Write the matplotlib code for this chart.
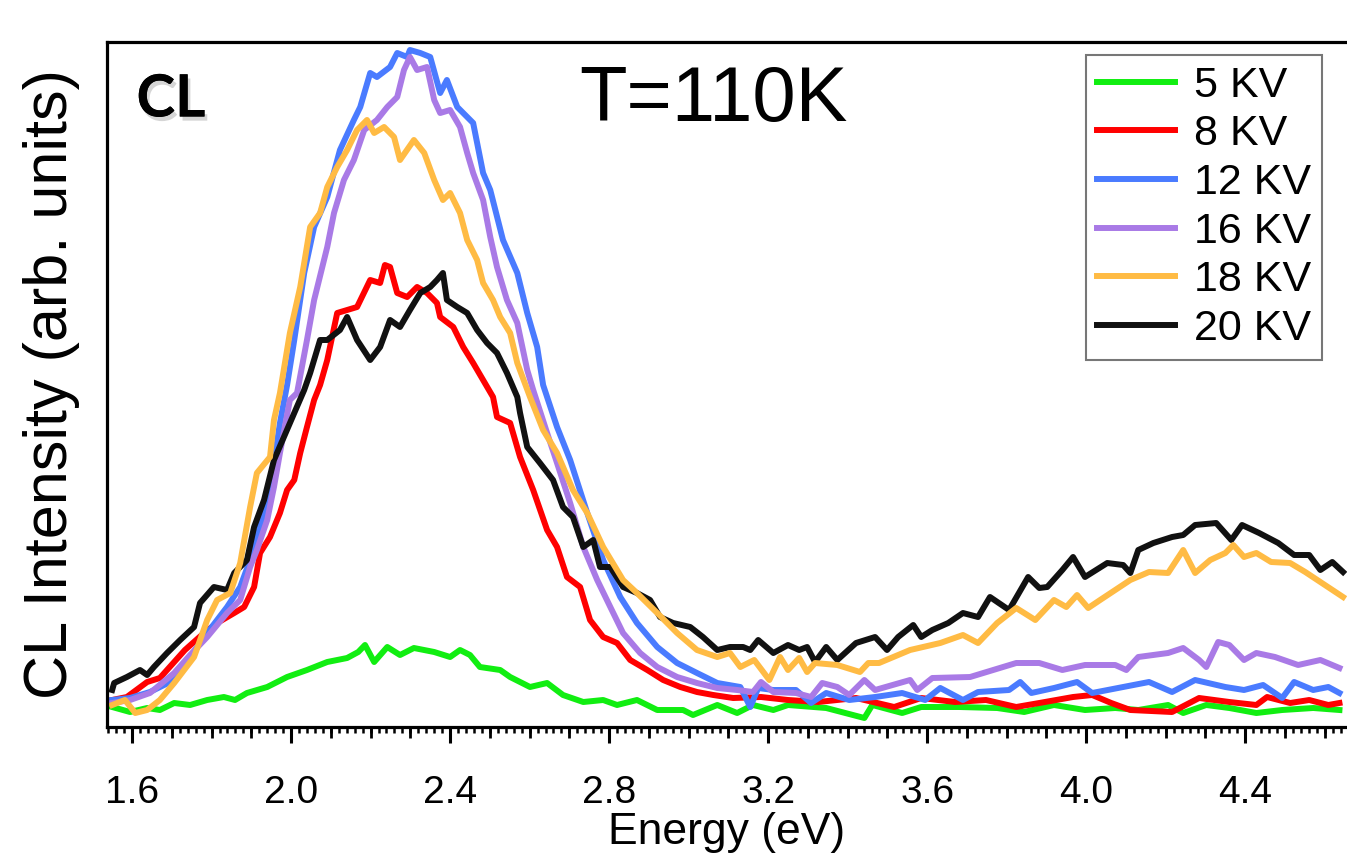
import numpy as np
import matplotlib
matplotlib.use("Agg")
import matplotlib.pyplot as plt
from matplotlib.ticker import MultipleLocator
import matplotlib.patheffects as pe

plt.rcParams['font.family'] = ['Liberation Sans', 'DejaVu Sans']

# CL spectra at T=110K, energy in eV, intensity in arb. units
e5 = [1.550, 1.595, 1.638, 1.670, 1.706, 1.746, 1.789, 1.831, 1.859, 1.889, 1.940, 1.990, 2.040,
      2.091, 2.141, 2.169, 2.186, 2.209, 2.242, 2.274, 2.309, 2.360, 2.400, 2.425, 2.450, 2.475,
      2.526, 2.551, 2.601, 2.644, 2.684, 2.735, 2.785, 2.820, 2.870, 2.921, 2.986, 3.011, 3.072,
      3.122, 3.162, 3.213, 3.250, 3.346, 3.442, 3.462, 3.537, 3.585, 3.680, 3.776, 3.844, 3.919,
      3.997, 4.073, 4.131, 4.206, 4.244, 4.302, 4.360, 4.428, 4.493, 4.571, 4.637]
i5 = [20, 15, 19, 17, 24, 22, 27, 30, 27, 34, 40, 50, 57,
      65, 69, 75, 82, 65, 80, 72, 79, 75, 70, 77, 72, 60,
      57, 50, 40, 44, 32, 25, 27, 22, 27, 17, 17, 12, 22,
      14, 22, 17, 22, 19, 9, 22, 14, 20, 20, 19, 15, 22,
      17, 19, 17, 22, 14, 22, 19, 14, 17, 19, 17]

e8 = [1.550, 1.587, 1.638, 1.670, 1.688, 1.733, 1.781, 1.814, 1.857, 1.882, 1.907, 1.922, 1.947,
      1.972, 1.990, 2.008, 2.023, 2.040, 2.058, 2.073, 2.091, 2.116, 2.141, 2.166, 2.199, 2.224,
      2.236, 2.249, 2.267, 2.292, 2.317, 2.342, 2.367, 2.375, 2.408, 2.433, 2.458, 2.483, 2.508,
      2.518, 2.551, 2.576, 2.609, 2.644, 2.669, 2.694, 2.727, 2.752, 2.785, 2.820, 2.853, 2.896,
      2.936, 2.979, 3.021, 3.062, 3.112, 3.182, 3.250, 3.326, 3.421, 3.517, 3.585, 3.670, 3.748,
      3.824, 3.882, 3.967, 4.015, 4.063, 4.111, 4.216, 4.284, 4.360, 4.428, 4.455, 4.513, 4.561,
      4.609, 4.637]
i8 = [27, 30, 45, 49, 57, 77, 94, 104, 114, 120, 140, 174, 190,
      214, 237, 247, 274, 300, 327, 342, 367, 414, 417, 420, 447, 444,
      462, 460, 434, 430, 440, 434, 424, 410, 400, 380, 364, 347, 330,
      310, 304, 270, 237, 197, 180, 150, 140, 107, 90, 84, 67, 57,
      47, 40, 35, 32, 29, 30, 27, 25, 29, 20, 29, 25, 27,
      20, 24, 30, 32, 24, 17, 15, 29, 25, 22, 30, 24, 27,
      22, 24]

e12 = [1.550, 1.595, 1.645, 1.706, 1.746, 1.789, 1.839, 1.872, 1.897, 1.932, 1.957, 1.972, 1.990,
       2.008, 2.033, 2.058, 2.091, 2.123, 2.158, 2.174, 2.199, 2.216, 2.249, 2.267, 2.292, 2.299,
       2.325, 2.350, 2.375, 2.392, 2.418, 2.458, 2.483, 2.501, 2.533, 2.569, 2.594, 2.619, 2.634,
       2.669, 2.702, 2.745, 2.785, 2.828, 2.870, 2.921, 2.971, 3.021, 3.072, 3.130, 3.155, 3.175,
       3.213, 3.270, 3.308, 3.346, 3.404, 3.469, 3.537, 3.595, 3.633, 3.690, 3.728, 3.806, 3.834,
       3.862, 3.919, 3.977, 4.015, 4.093, 4.158, 4.216, 4.274, 4.350, 4.397, 4.445, 4.493, 4.523,
       4.571, 4.609, 4.637]
i12 = [27, 29, 35, 47, 70, 94, 120, 140, 167, 214, 264, 304, 342,
       387, 454, 500, 530, 577, 607, 620, 654, 650, 660, 674, 670, 677,
       674, 670, 634, 647, 620, 604, 554, 537, 487, 454, 414, 380, 342,
       300, 267, 214, 167, 130, 104, 80, 64, 54, 44, 40, 20, 39,
       37, 37, 24, 34, 27, 30, 34, 27, 39, 27, 35, 37, 45,
       34, 39, 45, 34, 40, 45, 35, 47, 40, 37, 42, 29, 45,
       37, 40, 34]

e16 = [1.550, 1.595, 1.645, 1.706, 1.746, 1.789, 1.839, 1.872, 1.897, 1.914, 1.940, 1.957, 1.972,
       1.997, 2.015, 2.040, 2.058, 2.091, 2.108, 2.133, 2.158, 2.184, 2.216, 2.242, 2.267, 2.284,
       2.299, 2.317, 2.342, 2.360, 2.375, 2.400, 2.425, 2.443, 2.458, 2.483, 2.501, 2.518, 2.543,
       2.569, 2.594, 2.609, 2.644, 2.669, 2.702, 2.735, 2.770, 2.803, 2.835, 2.878, 2.921, 2.971,
       3.021, 3.072, 3.122, 3.162, 3.182, 3.213, 3.270, 3.308, 3.336, 3.374, 3.404, 3.442, 3.469,
       3.557, 3.575, 3.613, 3.708, 3.766, 3.824, 3.882, 3.940, 3.997, 4.073, 4.101, 4.131, 4.206,
       4.244, 4.284, 4.302, 4.332, 4.360, 4.397, 4.428, 4.475, 4.533, 4.589, 4.637]
i16 = [24, 27, 34, 54, 72, 90, 114, 127, 160, 177, 207, 240, 274,
       327, 334, 387, 427, 480, 514, 547, 567, 597, 607, 620, 630, 657,
       670, 657, 660, 627, 614, 617, 600, 574, 554, 527, 490, 460, 427,
       404, 357, 337, 294, 264, 224, 180, 147, 120, 94, 74, 60, 50,
       44, 39, 37, 35, 45, 35, 34, 30, 44, 40, 32, 47, 37,
       47, 37, 49, 50, 57, 64, 64, 57, 62, 62, 57, 70, 74,
       79, 67, 60, 85, 82, 67, 74, 70, 62, 67, 59]

e18 = [1.550, 1.582, 1.608, 1.638, 1.670, 1.706, 1.756, 1.789, 1.814, 1.847, 1.872, 1.897, 1.914,
       1.947, 1.957, 1.972, 1.997, 2.023, 2.048, 2.073, 2.091, 2.116, 2.141, 2.166, 2.191, 2.209,
       2.234, 2.259, 2.274, 2.309, 2.335, 2.360, 2.382, 2.400, 2.425, 2.443, 2.468, 2.483, 2.508,
       2.526, 2.551, 2.569, 2.601, 2.634, 2.669, 2.709, 2.745, 2.785, 2.835, 2.870, 2.921, 2.971,
       3.021, 3.072, 3.104, 3.130, 3.165, 3.203, 3.230, 3.250, 3.278, 3.298, 3.318, 3.374, 3.431,
       3.452, 3.479, 3.557, 3.633, 3.690, 3.728, 3.776, 3.824, 3.872, 3.919, 3.950, 3.977, 4.005,
       4.035, 4.073, 4.111, 4.158, 4.206, 4.244, 4.274, 4.312, 4.350, 4.370, 4.397, 4.428, 4.465,
       4.513, 4.551, 4.589, 4.646]
i18 = [22, 27, 14, 17, 27, 44, 70, 107, 127, 134, 164, 220, 254,
       270, 307, 334, 394, 440, 500, 514, 540, 560, 577, 597, 607, 594,
       600, 590, 567, 587, 574, 547, 527, 534, 514, 487, 467, 444, 427,
       410, 394, 364, 330, 297, 274, 237, 214, 180, 147, 134, 114, 94,
       77, 70, 74, 60, 67, 47, 70, 57, 69, 55, 64, 62, 55,
       64, 64, 77, 84, 92, 84, 104, 119, 107, 127, 120, 132, 119,
       127, 137, 147, 155, 154, 177, 154, 167, 174, 182, 170, 174, 165,
       164, 155, 145, 130]

e20 = [1.550, 1.555, 1.587, 1.620, 1.638, 1.655, 1.688, 1.721, 1.756, 1.771, 1.806, 1.839, 1.857,
       1.889, 1.907, 1.932, 1.957, 1.982, 2.008, 2.033, 2.048, 2.073, 2.091, 2.123, 2.141, 2.166,
       2.199, 2.224, 2.249, 2.274, 2.299, 2.325, 2.350, 2.367, 2.382, 2.392, 2.418, 2.443, 2.468,
       2.493, 2.518, 2.543, 2.569, 2.576, 2.594, 2.626, 2.659, 2.684, 2.709, 2.735, 2.760, 2.777,
       2.803, 2.835, 2.870, 2.903, 2.928, 2.961, 3.004, 3.036, 3.072, 3.104, 3.137, 3.155, 3.175,
       3.213, 3.250, 3.278, 3.298, 3.318, 3.346, 3.374, 3.421, 3.469, 3.499, 3.527, 3.565, 3.585,
       3.613, 3.653, 3.690, 3.728, 3.758, 3.806, 3.854, 3.882, 3.902, 3.940, 3.967, 3.997, 4.053,
       4.093, 4.111, 4.131, 4.169, 4.216, 4.244, 4.274, 4.327, 4.365, 4.392, 4.435, 4.483, 4.523,
       4.561, 4.589, 4.619, 4.646]
i20 = [37, 44, 50, 57, 52, 60, 74, 87, 100, 124, 140, 137, 154,
       167, 200, 227, 267, 290, 314, 337, 354, 387, 387, 397, 410, 387,
       367, 380, 407, 400, 417, 434, 440, 447, 454, 427, 420, 414, 397,
       384, 374, 354, 330, 314, 280, 264, 247, 220, 210, 180, 187, 160,
       160, 140, 134, 127, 110, 104, 100, 90, 77, 80, 80, 77, 87,
       74, 82, 77, 80, 65, 80, 67, 84, 90, 77, 90, 102, 90,
       97, 104, 114, 110, 130, 117, 150, 139, 140, 157, 170, 150, 164,
       162, 154, 177, 184, 190, 192, 202, 204, 187, 202, 194, 184, 172,
       172, 157, 165, 155]

series = [
    ("5 KV", e5, i5, "#11ee11"),
    ("8 KV", e8, i8, "#ff0000"),
    ("12 KV", e12, i12, "#4a7bff"),
    ("16 KV", e16, i16, "#a97ae6"),
    ("20 KV", e20, i20, "#111111"),
    ("18 KV", e18, i18, "#ffbb44"),
]
legend_order = ["5 KV", "8 KV", "12 KV", "16 KV", "18 KV", "20 KV"]

W, H = 1347, 857
fig = plt.figure(figsize=(W / 100, H / 100), dpi=100)
ax = fig.add_axes([107 / W, 130 / H, 1240 / W, 685 / H])

handles = {}
for label, e, inten, color in series:
    ln, = ax.plot(e, inten, color=color, lw=4.3, label=label)
    handles[label] = ln

ax.set_xlim(1.537, 4.656)
ax.set_ylim(0, 685)

for s in ["left", "top", "bottom"]:
    ax.spines[s].set_linewidth(2.3)
ax.spines["right"].set_visible(False)

ax.xaxis.set_major_locator(MultipleLocator(0.4))
ax.xaxis.set_minor_locator(MultipleLocator(0.02))
ax.tick_params(axis="x", which="major", direction="out", length=11.5, width=2.2,
               labelsize=28, pad=23)
ax.tick_params(axis="x", which="minor", direction="out", length=4.5, width=1.8)
ax.set_yticks([])

# medium ticks every 0.1 eV
sec = ax.secondary_xaxis("bottom")
sec.xaxis.set_major_locator(MultipleLocator(0.1))
sec.tick_params(direction="out", length=8, width=2.0, labelbottom=False)
sec.spines["bottom"].set_visible(False)

ax.set_xlabel("Energy (eV)", fontsize=32)
ax.xaxis.set_label_coords(0.5, -0.124)
ax.set_ylabel("CL Intensity (arb. units)", fontsize=44)
ax.yaxis.set_label_coords(-0.022, 0.5)

fig.text(713 / W, 1 - 101 / H, "T=110K", fontsize=56, ha="center", va="center")
fig.text(171 / W, 1 - 100 / H, "CL", fontsize=42, fontweight="bold", family="Lato",
         ha="center", va="center",
         path_effects=[pe.withSimplePatchShadow(offset=(2, -3), shadow_rgbFace="#888888", alpha=0.35),
                       pe.Normal()])

leg = ax.legend([handles[k] for k in legend_order], legend_order,
                loc="upper right", bbox_to_anchor=(1322 / W, 1 - 55 / H),
                bbox_transform=fig.transFigure, borderaxespad=0,
                fontsize=31, frameon=True, fancybox=False, handlelength=1.8,
                handletextpad=0.45, labelspacing=0.2, borderpad=0.25)
leg.get_frame().set_edgecolor("#555555")
leg.get_frame().set_linewidth(1.5)

fig.savefig("out.png", dpi=100)
